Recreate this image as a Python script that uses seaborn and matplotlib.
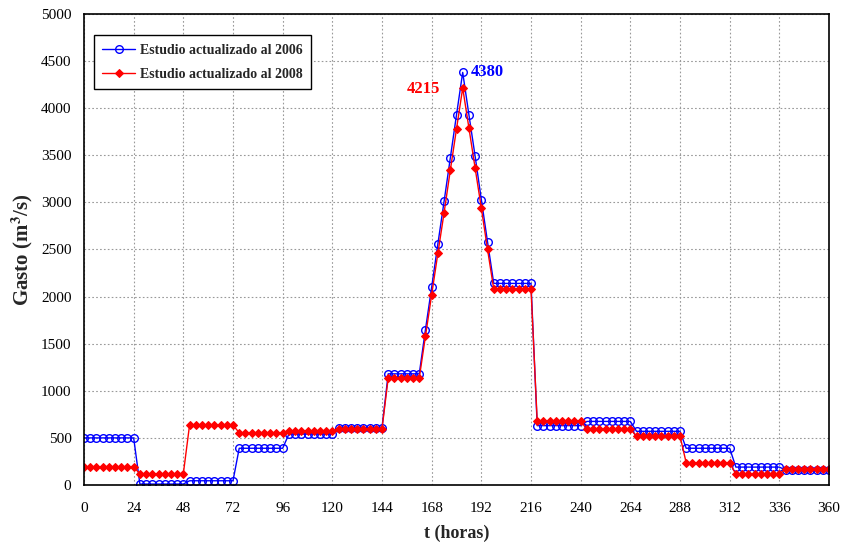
import numpy as np
import pandas as pd
import matplotlib
matplotlib.use("Agg")
import matplotlib.pyplot as plt
import seaborn as sns

hours = list(range(0, 361, 3))

gasto_2006 = [
    500, 500, 500, 500, 500, 500, 500, 500, 500,
    10, 10, 10, 10, 10, 10, 10, 10,
    45, 45, 45, 45, 45, 45, 45, 45,
    390, 390, 390, 390, 390, 390, 390, 390,
    540, 540, 540, 540, 540, 540, 540, 540,
    610, 610, 610, 610, 610, 610, 610, 610,
    1180, 1180, 1180, 1180, 1180, 1180,
    1650, 2100, 2560, 3010, 3470, 3930, 4380, 3930, 3490, 3030, 2580,
    2140, 2140, 2140, 2140, 2140, 2140, 2140,
    630, 630, 630, 630, 630, 630, 630, 630,
    675, 675, 675, 675, 675, 675, 675, 675,
    570, 570, 570, 570, 570, 570, 570, 570,
    390, 390, 390, 390, 390, 390, 390, 390,
    190, 190, 190, 190, 190, 190, 190, 190,
    160, 160, 160, 160, 160, 160, 160, 160,
]

gasto_2008 = [
    190, 190, 190, 190, 190, 190, 190, 190, 190,
    120, 120, 120, 120, 120, 120, 120, 120,
    635, 635, 635, 635, 635, 635, 635, 635,
    555, 555, 555, 555, 555, 555, 555, 555,
    575, 575, 575, 575, 575, 575, 575, 575,
    595, 595, 595, 595, 595, 595, 595, 595,
    1135, 1135, 1135, 1135, 1135, 1135,
    1580, 2020, 2460, 2890, 3340, 3780, 4215, 3790, 3365, 2940, 2500,
    2080, 2080, 2080, 2080, 2080, 2080, 2080,
    680, 680, 680, 680, 680, 680, 680, 680,
    590, 590, 590, 590, 590, 590, 590, 590,
    520, 520, 520, 520, 520, 520, 520, 520,
    235, 235, 235, 235, 235, 235, 235, 235,
    115, 115, 115, 115, 115, 115, 115, 115,
    170, 170, 170, 170, 170, 170, 170, 170,
]

labels = ["Estudio actualizado al 2006", "Estudio actualizado al 2008"]
x_ticks = list(range(0, 361, 24))
y_ticks = list(range(0, 5001, 500))

sns.set_style("white")
plt.rcParams["font.family"] = ["Liberation Serif", "DejaVu Serif"]
plt.rcParams["mathtext.fontset"] = "stix"

fig = plt.figure(figsize=(8.41, 5.46), dpi=100)
ax = fig.add_axes([84 / 841, 1 - 485 / 546, 745 / 841, 471 / 546])

df1 = pd.DataFrame({"t": hours, "q": gasto_2006})
df2 = pd.DataFrame({"t": hours, "q": gasto_2008})

sns.lineplot(data=df1, x="t", y="q", ax=ax, color="#0000ff", linewidth=1.0,
             marker="o", markersize=5.5, markerfacecolor="none",
             markeredgecolor="#0000ff", markeredgewidth=1.0, label=labels[0])
sns.lineplot(data=df2, x="t", y="q", ax=ax, color="#ff0000", linewidth=1.0,
             marker="D", markersize=4, markerfacecolor="#ff0000",
             markeredgecolor="#ff0000", label=labels[1])

ax.set_xlim(0, 360)
ax.set_ylim(0, 5000)
ax.set_xticks(x_ticks)
ax.set_yticks(y_ticks)
ax.tick_params(direction="in", length=4, width=1, labelsize=11, colors="black")
ax.tick_params(axis="x", pad=12)
ax.tick_params(axis="y", pad=9)
ax.grid(True, linestyle=(0, (1.5, 2)), color="#999999", linewidth=0.8)
for s in ax.spines.values():
    s.set_color("black")
    s.set_linewidth(1.2)

ax.set_xlabel("t (horas)", fontsize=13, fontweight="bold", labelpad=7)
ax.set_ylabel(r"Gasto (m$^\mathbf{3}$/s)", fontsize=15, fontweight="bold", labelpad=4)

ax.text(183 + 4, 4380, "4380", color="#0000ff", fontsize=12, fontweight="bold",
        ha="left", va="center")
ax.text(183 - 11, 4200, "4215", color="#ff0000", fontsize=12, fontweight="bold",
        ha="right", va="center")

leg = ax.legend(loc="upper left", bbox_to_anchor=(0.013, 0.955), borderaxespad=0,
                frameon=True, fancybox=False, edgecolor="black", framealpha=1,
                prop={"weight": "bold", "size": 10}, handlelength=2.4,
                labelspacing=0.8, borderpad=0.6, handletextpad=0.3)
leg.get_frame().set_linewidth(1.0)

fig.savefig("out.png", dpi=100)
